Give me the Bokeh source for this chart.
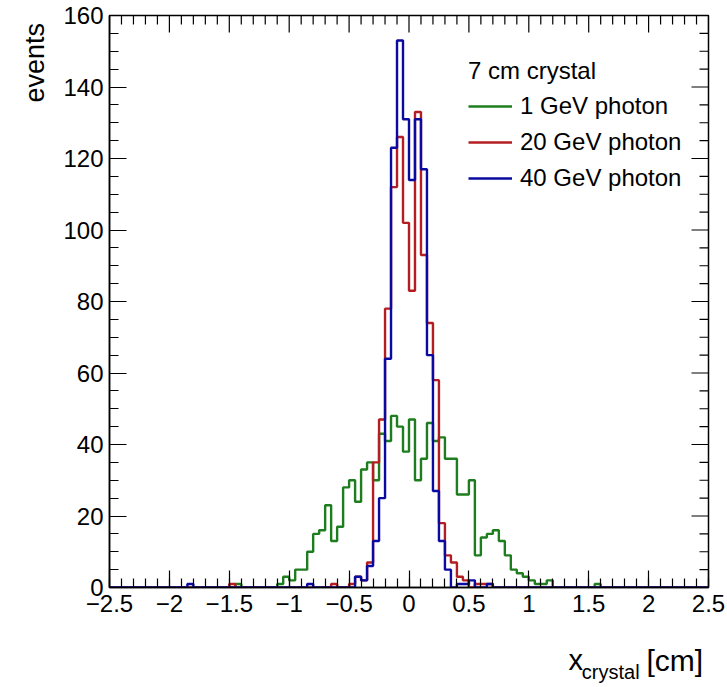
import numpy as np
from bokeh.plotting import figure
from bokeh.layouts import row, column
from bokeh.models import FixedTicker, Legend, LegendItem, Range1d
from bokeh.core.properties import value
from bokeh.embed import file_html
from bokeh.resources import INLINE

# ---------------- data ----------------
x_min, x_max, n_bins = -2.5, 2.5, 100
y_min, y_max = 0, 160

counts_1gev = [
    0, 0, 0, 0, 0, 0, 0, 0, 0, 0,
    0, 0, 0, 0, 0, 0, 0, 0, 0, 0,
    0, 1, 0, 0, 0, 0, 0, 0, 1, 3,
    2, 5, 5, 10, 15, 16, 23, 13, 17, 28,
    30, 24, 33, 35, 30, 43, 41, 48, 45, 38,
    47, 30, 36, 46, 41, 42, 36, 36, 26, 26,
    30, 9, 14, 15, 16, 13, 9, 5, 4, 3,
    2, 1, 1, 2, 0, 0, 0, 0, 0, 0,
    0, 1, 0, 0, 0, 0, 0, 0, 0, 0,
    0, 0, 0, 0, 0, 0, 0, 0, 0, 0,
]
counts_20gev = [
    0, 0, 0, 0, 0, 0, 0, 0, 0, 0,
    0, 0, 0, 0, 0, 0, 0, 0, 0, 0,
    1, 0, 0, 0, 0, 0, 0, 0, 0, 0,
    0, 0, 0, 0, 0, 0, 0, 1, 0, 0,
    1, 3, 2, 7, 35, 47, 78, 112, 126, 102,
    83, 133, 93, 74, 58, 18, 9, 7, 3, 2,
    0, 1, 1, 1, 0, 0, 0, 0, 0, 0,
    0, 0, 0, 0, 0, 0, 0, 0, 0, 0,
    0, 0, 0, 0, 0, 0, 0, 0, 0, 0,
    0, 0, 0, 0, 0, 0, 0, 0, 0, 0,
]
counts_40gev = [
    0, 0, 0, 0, 0, 0, 0, 0, 0, 0,
    0, 0, 0, 1, 0, 0, 0, 0, 0, 0,
    0, 0, 0, 0, 0, 0, 0, 0, 0, 0,
    0, 0, 0, 1, 0, 0, 0, 0, 0, 0,
    0, 3, 2, 6, 13, 25, 64, 123, 153, 131,
    114, 131, 117, 65, 27, 13, 5, 0, 1, 1,
    2, 0, 0, 1, 0, 0, 0, 0, 0, 0,
    0, 0, 0, 0, 0, 0, 0, 0, 0, 0,
    0, 0, 0, 0, 0, 0, 0, 0, 0, 0,
    0, 0, 0, 0, 0, 0, 0, 0, 0, 0,
]
series_labels = ["1 GeV photon", "20 GeV photon", "40 GeV photon"]
legend_title = "7 cm crystal"
y_title = "events"
x_title_main = "x"
x_title_sub = "crystal"
x_title_unit = "[cm]"

x_ticks = [-2.5, -2.0, -1.5, -1.0, -0.5, 0.0, 0.5, 1.0, 1.5, 2.0, 2.5]
x_tick_labels = ["\u22122.5", "\u22122", "\u22121.5", "\u22121", "\u22120.5", "0",
                 "0.5", "1", "1.5", "2", "2.5"]
x_minor_step = 0.1
y_ticks = [0, 20, 40, 60, 80, 100, 120, 140, 160]
y_tick_labels = ["0", "20", "40", "60", "80", "100", "120", "140", "160"]
y_minor_step = 5

# ---------------- style / layout ----------------
FONT = "Liberation Sans"
colors = ["#1e7d1e", "#b41e22", "#0a0aa0"]
W, H = 727, 687
LEFT_W = 60            # strip holding the y title
BOTTOM_H = 47          # strip holding the x title
FRAME_L, FRAME_R, FRAME_T, FRAME_B = 109, 708, 15, 587
MAJ_LEN, MIN_LEN = 17, 9

edges = np.linspace(x_min, x_max, n_bins + 1)


def step_path(counts):
    xs = np.repeat(edges, 2)[1:-1]
    ys = np.repeat(np.asarray(counts, dtype=float), 2)
    return xs, ys


main_w = W - LEFT_W
main_h = H - BOTTOM_H
p = figure(width=main_w, height=main_h, x_range=Range1d(x_min, x_max), y_range=Range1d(y_min, y_max),
           output_backend="svg", toolbar_location=None,
           min_border_left=FRAME_L - LEFT_W, min_border_right=W - FRAME_R,
           min_border_top=FRAME_T, min_border_bottom=main_h - FRAME_B)
p.grid.visible = False
p.outline_line_color = "black"
p.outline_line_width = 1.5
p.background_fill_color = "white"
p.border_fill_color = "white"

renderers = []
for counts, col in zip([counts_1gev, counts_20gev, counts_40gev], colors):
    xs, ys = step_path(counts)
    r = p.line(xs, ys, line_color=col, line_width=2.4)
    renderers.append(r)

x_minor = [round(v, 3) for v in np.arange(x_min, x_max + 1e-9, x_minor_step)]
y_minor = list(range(y_min, y_max + 1, y_minor_step))


def style_axis(ax, ticks, minor, labels):
    ax.ticker = FixedTicker(ticks=ticks, minor_ticks=minor)
    ax.major_tick_in = MAJ_LEN
    ax.major_tick_out = 0
    ax.minor_tick_in = MIN_LEN
    ax.minor_tick_out = 0
    ax.axis_line_color = "black"
    ax.axis_line_width = 1.5
    ax.major_tick_line_color = "black"
    ax.minor_tick_line_color = "black"
    ax.major_tick_line_width = 1.2
    ax.minor_tick_line_width = 1.2
    ax.major_label_overrides = {t: l for t, l in zip(ticks, labels)}
    ax.major_label_text_font = FONT
    ax.major_label_text_font_size = "24px"
    ax.major_label_text_color = "black"


style_axis(p.xaxis[0], x_ticks, x_minor, x_tick_labels)
p.xaxis[0].major_label_standoff = 7
style_axis(p.yaxis[0], y_ticks, y_minor, y_tick_labels)
p.yaxis[0].major_label_standoff = 6

# ticks on the top and right frame edges (ROOT style), lengths in pixels
frame_w = FRAME_R - FRAME_L
frame_h = FRAME_B - FRAME_T
dx_per_px = (x_max - x_min) / frame_w
dy_per_px = (y_max - y_min) / frame_h
x_min_only = [t for t in x_minor if all(abs(t - m) > 1e-6 for m in x_ticks)]
y_min_only = [t for t in y_minor if t not in y_ticks]
for ticks, ln in [(x_ticks, MAJ_LEN), (x_min_only, MIN_LEN)]:
    p.segment(x0=ticks, x1=ticks, y0=[y_max] * len(ticks), y1=[y_max - ln * dy_per_px] * len(ticks),
              line_color="black", line_width=1.2)
for ticks, ln in [(y_ticks, MAJ_LEN), (y_min_only, MIN_LEN)]:
    p.segment(x0=[x_max] * len(ticks), x1=[x_max - ln * dx_per_px] * len(ticks), y0=ticks, y1=ticks,
              line_color="black", line_width=1.2)

legend = Legend(items=[LegendItem(label=lab, renderers=[r]) for lab, r in zip(series_labels, renderers)],
                location=(359, FRAME_B - 192), title=legend_title,
                title_text_font=FONT, title_text_font_size="24px", title_text_font_style="normal",
                title_text_color="black",
                label_text_font=FONT, label_text_font_size="24px", label_text_color="black",
                glyph_width=44, glyph_height=28, label_height=28, label_standoff=8,
                spacing=8, padding=0, margin=0, title_standoff=7,
                border_line_alpha=0, background_fill_alpha=0)
p.add_layout(legend)


def blank(width, height):
    f = figure(width=width, height=height, x_range=Range1d(0, width), y_range=Range1d(0, height),
               output_backend="svg", toolbar_location=None, min_border=0,
               x_axis_location=None, y_axis_location=None)
    f.grid.visible = False
    f.outline_line_color = None
    f.background_fill_color = "white"
    f.border_fill_color = "white"
    return f


# y title strip (left): x,y are canvas-pixel positions converted to the strip's data units
left = blank(LEFT_W, H)
left.text(x=[34], y=[H - 102], text=[y_title], angle=np.pi / 2, text_align="left",
          text_baseline="middle", text_font=value(FONT), text_font_size="27px", text_color="black")

# x title strip (bottom)
bottom = blank(main_w, BOTTOM_H)
bottom.text(x=[571 - LEFT_W], y=[H - 659], text=[x_title_main], text_align="left",
            text_baseline="middle", text_font=value(FONT), text_font_size="29px", text_color="black")
bottom.text(x=[586 - LEFT_W], y=[H - 671], text=[x_title_sub], text_align="left",
            text_baseline="middle", text_font=value(FONT), text_font_size="20px", text_color="black")
bottom.text(x=[658 - LEFT_W], y=[H - 660], text=[x_title_unit], text_align="left",
            text_baseline="middle", text_font=value(FONT), text_font_size="30px", text_color="black")

layout = row(left, column(p, bottom, spacing=0), spacing=0)
open("out.html", "w").write(file_html(layout, INLINE))
